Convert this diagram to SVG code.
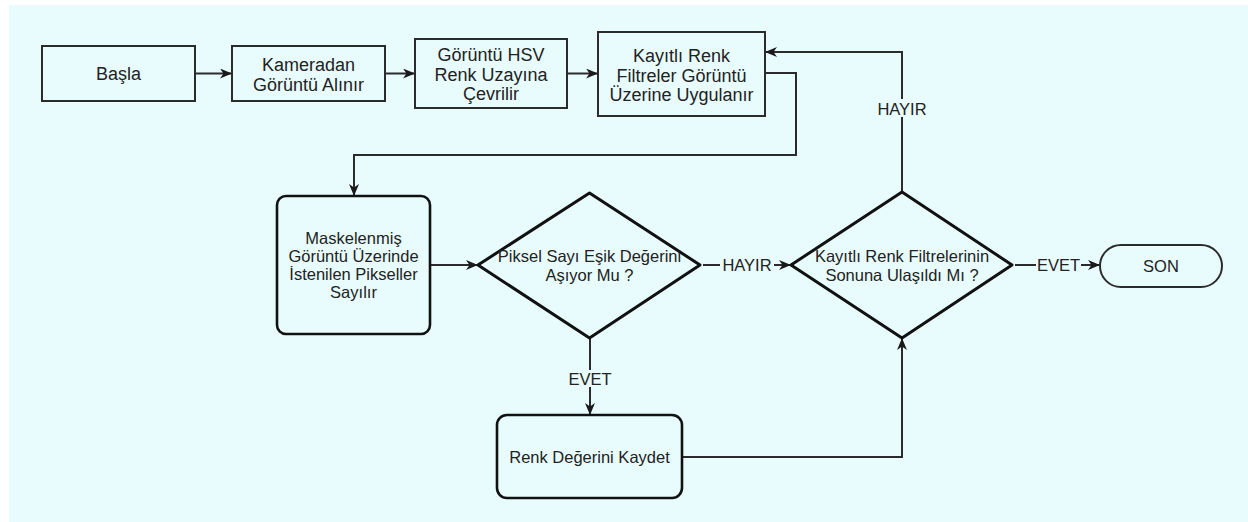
<svg xmlns="http://www.w3.org/2000/svg" width="1248" height="522" viewBox="0 0 1248 522">
<defs>
<marker id="ah" markerUnits="userSpaceOnUse" markerWidth="14" markerHeight="12" refX="12" refY="5" orient="auto">
<path d="M0,0 L12,5 L0,10 L3.5,5 z" fill="#1a1a1a"/>
</marker>
<style>
.box{fill:none;stroke:#2b2b2b;stroke-width:2}
.rbox{fill:none;stroke:#111;stroke-width:2.6}
.dia{fill:none;stroke:#111;stroke-width:3;stroke-linejoin:round}
.term{fill:none;stroke:#2b2b2b;stroke-width:2}
.edge{fill:none;stroke:#2b2b2b;stroke-width:2}
text{font-family:"Liberation Sans",Arial,sans-serif;fill:#222;text-anchor:middle}
.t17{font-size:18px}
.t16{font-size:16.5px}
.lbl{font-size:16.5px}
.lblbg{fill:#e8fcfd}
</style>
</defs>
<rect x="0" y="0" width="1248" height="522" fill="#ffffff"/>
<rect x="9" y="5" width="1239" height="517" fill="#e8fcfd"/>

<g id="connectors">
<line class="edge" x1="195" y1="73.5" x2="232" y2="73.5" marker-end="url(#ah)"/>
<line class="edge" x1="385" y1="73.5" x2="415" y2="73.5" marker-end="url(#ah)"/>
<line class="edge" x1="567" y1="73.5" x2="598" y2="73.5" marker-end="url(#ah)"/>
<polyline class="edge" points="765,73 796,73 796,155 354,155 354,196" marker-end="url(#ah)"/>
<line class="edge" x1="430" y1="265" x2="478" y2="265" marker-end="url(#ah)"/>
<line class="edge" x1="703" y1="265" x2="791" y2="265" marker-end="url(#ah)"/>
<line class="edge" x1="1015" y1="265" x2="1100" y2="265" marker-end="url(#ah)"/>
<line class="edge" x1="590" y1="338" x2="590" y2="415" marker-end="url(#ah)"/>
<polyline class="edge" points="682,457 902,457 902,338" marker-end="url(#ah)"/>
<polyline class="edge" points="902,192 902,52 765,52" marker-end="url(#ah)"/>
<rect class="lblbg" x="720" y="256" width="54" height="18"/>
<text class="lbl" x="747" y="271">HAYIR</text>
<rect class="lblbg" x="1036" y="256" width="45" height="18"/>
<text class="lbl" x="1058.5" y="271">EVET</text>
<rect class="lblbg" x="566" y="370" width="48" height="17"/>
<text class="lbl" x="590" y="384.5">EVET</text>
<rect class="lblbg" x="874" y="99" width="56" height="18"/>
<text class="lbl" x="902" y="114.5">HAYIR</text>
</g>

<g id="basla">
<rect class="box" x="42" y="46" width="153" height="55"/>
<text class="t17" x="118.5" y="80">Başla</text>
</g>

<g id="kameradan">
<rect class="box" x="232" y="46" width="153" height="55"/>
<text class="t17" x="308.5" y="71">Kameradan</text>
<text class="t17" x="308.5" y="91">Görüntü Alınır</text>
</g>

<g id="hsv">
<rect class="box" x="415" y="39" width="152" height="69"/>
<text class="t17" x="491" y="61">Görüntü HSV</text>
<text class="t17" x="491" y="80.5">Renk Uzayına</text>
<text class="t17" x="491" y="100">Çevrilir</text>
</g>

<g id="filtreler">
<rect class="box" x="598" y="32" width="167" height="84"/>
<text class="t17" x="681.5" y="62">Kayıtlı Renk</text>
<text class="t17" x="681.5" y="81.5">Filtreler Görüntü</text>
<text class="t17" x="681.5" y="101">Üzerine Uygulanır</text>
</g>

<g id="maskelenmis">
<rect class="rbox" x="277" y="196" width="153" height="138" rx="9" ry="9"/>
<text class="t16" x="353.5" y="243.5">Maskelenmiş</text>
<text class="t16" x="353.5" y="261.5">Görüntü Üzerinde</text>
<text class="t16" x="353.5" y="279.5">İstenilen Pikseller</text>
<text class="t16" x="353.5" y="297.5">Sayılır</text>
</g>

<g id="piksel-karar">
<polygon class="dia" points="589.5,193 700,265 589.5,338 478,265"/>
<text class="t16" x="589.5" y="262">Piksel Sayı Eşik Değerini</text>
<text class="t16" x="589.5" y="280.5">Aşıyor Mu ?</text>
</g>

<g id="filtre-karar">
<polygon class="dia" points="902,192 1012,265 902,338 791,265"/>
<text class="t16" x="902" y="262">Kayıtlı Renk Filtrelerinin</text>
<text class="t16" x="902" y="280.5">Sonuna Ulaşıldı Mı ?</text>
</g>

<g id="kaydet">
<rect class="rbox" x="497" y="415" width="185" height="83" rx="10" ry="10"/>
<text class="t16" x="589.5" y="462.5">Renk Değerini Kaydet</text>
</g>

<g id="son">
<rect class="term" x="1100" y="245" width="122" height="42" rx="21" ry="21"/>
<text class="t16" x="1161" y="271.5">SON</text>
</g>
</svg>
